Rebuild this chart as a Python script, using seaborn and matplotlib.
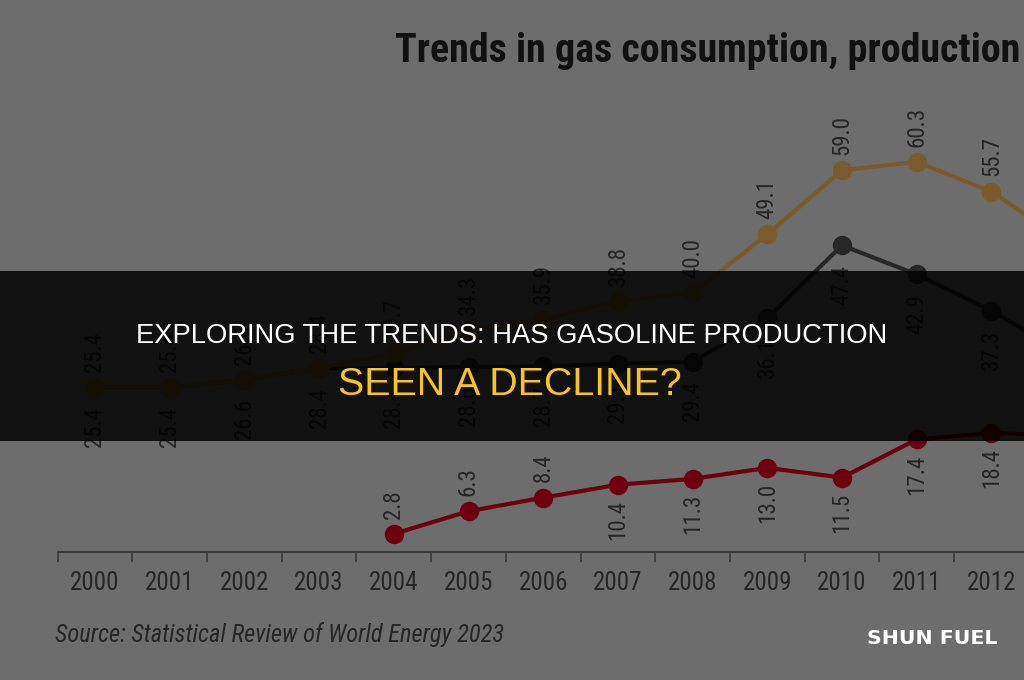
import matplotlib
matplotlib.use("Agg")
import matplotlib.pyplot as plt
import pandas as pd
import seaborn as sns
from matplotlib import font_manager
from matplotlib.patches import Rectangle

# data
years = list(range(2000, 2014))
consumption = [25.4, 25.4, 26.6, 28.4, 30.7, 34.3, 35.9, 38.8, 40.0, 49.1, 59.0, 60.3, 55.7, 47.9]
production = [25.4, 25.4, 26.6, 28.4, 28.4, 28.6, 28.7, 29.1, 29.4, 36.1, 47.4, 42.9, 37.3, 30.5]
import_years = list(range(2004, 2014))
imports = [2.8, 6.3, 8.4, 10.4, 11.3, 13.0, 11.5, 17.4, 18.4, 18.0]

title_text = "Trends in gas consumption, production"
source_text = "Source: Statistical Review of World Energy 2023"
banner_line1 = "EXPLORING THE TRENDS: HAS GASOLINE PRODUCTION"
banner_line2 = "SEEN A DECLINE?"
watermark = "SHUN FUEL"

# colours
BG = "#6d6d6d"
INK = "#262626"
AXIS = "#3a3a3a"
GOLD = "#7a5c2c"
DARK = "#272727"
RED = "#6c0010"

W, H = 1024, 680

sns.set_theme(style="white")

# pick a narrow face if one is installed
fonts = font_manager.fontManager.ttflist
names = {f.name for f in fonts}
narrow = {"family": ["DejaVu Sans"], "fontstretch": "normal"}
for n in ["Liberation Sans Narrow", "Roboto Condensed", "Open Sans Condensed", "Arial Narrow"]:
    if n in names:
        narrow = {"family": [n, "DejaVu Sans"], "fontstretch": "normal"}
        break
else:
    if any(f.name == "DejaVu Sans" and f.stretch == "condensed" for f in fonts):
        narrow = {"family": ["DejaVu Sans"], "fontstretch": "condensed"}
plt.rcParams["font.family"] = narrow["family"]
plt.rcParams["font.stretch"] = narrow["fontstretch"]

fig = plt.figure(figsize=(W / 100, H / 100), dpi=100, facecolor=BG)
renderer = fig.canvas.get_renderer()


def size_for(s, width, **kw):
    t = fig.text(0, 0, s, fontsize=10, **kw)
    w = t.get_window_extent(renderer).width
    t.remove()
    return 10 * width / w


label_size = min(18, size_for("47.4", 40))
tick_size = min(18, size_for("2000", 49))

ax = fig.add_axes([0, 1 - 552 / H, 1, 552 / H])
ax.set_facecolor(BG)

df = pd.DataFrame({"year": years, "consumption": consumption, "production": production})
df_imp = pd.DataFrame({"year": import_years, "imports": imports})

for data, col, color in [(df, "production", DARK), (df, "consumption", GOLD), (df_imp, "imports", RED)]:
    sns.lineplot(data=data, x="year", y=col, ax=ax, color=color, lw=3,
                 marker="o", markersize=14, markeredgewidth=0)


def label_points(xs, vs, gap, above):
    for i, (x, v) in enumerate(zip(xs, vs)):
        up = above(i)
        ax.annotate(f"{v:.1f}", (x, v), xytext=(0, gap if up else -gap),
                    textcoords="offset points", rotation=90, ha="center",
                    va="bottom" if up else "top", fontsize=label_size, color=INK)


label_points(years, consumption, 11, lambda i: True)
label_points(years, production, 14, lambda i: False)
label_points(import_years, imports, 11, lambda i: i < 3)

# x axis: ticks between years, labels on the years
ax.set_xticks([y - 0.5 for y in years] + [years[-1] + 0.5])
ax.set_xticklabels([])
ax.set_xticks(years, minor=True)
ax.set_xticklabels([str(y) for y in years], minor=True)
ax.tick_params(axis="x", which="major", bottom=True, length=7, width=1.2,
               color=AXIS, direction="out")
ax.tick_params(axis="x", which="minor", bottom=True, length=0, pad=14,
               labelsize=tick_size, labelcolor=INK)
ax.set_yticks([])
ax.set_xlabel("")
ax.set_ylabel("")
sns.despine(ax=ax, left=True)
ax.spines["bottom"].set_bounds(1999.5, years[-1] + 0.5)
ax.spines["bottom"].set_color(AXIS)
ax.spines["bottom"].set_linewidth(1.5)

px_per_year = 74.7
left = 2000 - 95 / px_per_year
ax.set_xlim(left, left + W / px_per_year)
ax.set_ylim(0, 552 / 6.47)


def fit_text(x, y, s, width, size, **kw):
    t = fig.text(x / W, 1 - y / H, s, fontsize=size, **kw)
    w = t.get_window_extent(renderer).width
    t.set_fontsize(size * width / w)
    return t


fit_text(395, 62, title_text, 625, 30, fontweight="bold", color="#111111",
         va="baseline", ha="left")
fit_text(55, 642, source_text, 450, 18, style="italic", color=INK,
         va="baseline", ha="left")

# dark banner across the middle
fig.add_artist(Rectangle((0, 1 - 441 / H), 1, 170 / H, transform=fig.transFigure,
                         facecolor="black", edgecolor="none", alpha=0.84, zorder=5))
fit_text(512, 343, banner_line1, 750, 18, color="white", ha="center", va="baseline",
         family=["Liberation Sans", "DejaVu Sans"], fontstretch="normal", zorder=6)
fit_text(510, 395, banner_line2, 344, 25, color="#f7c325", ha="center", va="baseline",
         family=["Liberation Sans", "DejaVu Sans"], fontstretch="normal", zorder=6)
fit_text(932, 644, watermark, 130, 14, color="white", ha="center", va="baseline",
         fontweight="bold", family=["DejaVu Sans"], fontstretch="normal", zorder=6)

fig.savefig("out.png", dpi=100, facecolor=BG)
